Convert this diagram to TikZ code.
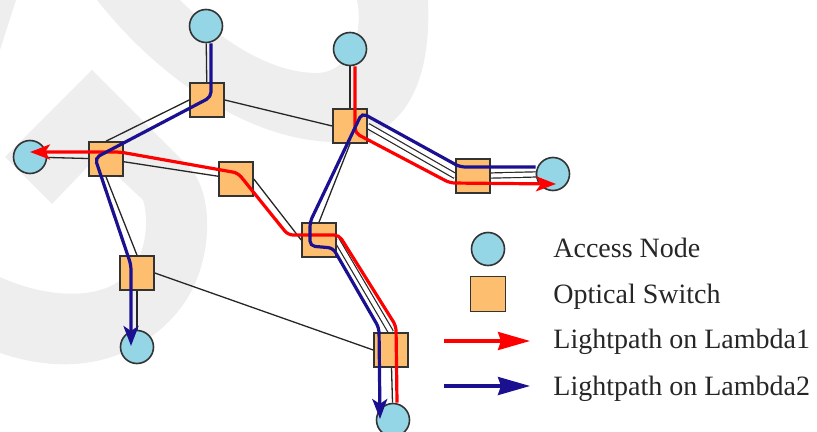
\documentclass[tikz,border=0pt]{standalone}
\usepackage{fontspec}
\setmainfont{Liberation Serif}
\usetikzlibrary{arrows.meta,backgrounds}
\definecolor{acces}{HTML}{94D6E6}
\definecolor{commut}{HTML}{FDBF6F}
\definecolor{rouge}{HTML}{FF0000}
\definecolor{marine}{HTML}{1B1090}
\definecolor{filigrane}{HTML}{EEEEEE}
\tikzset{accessnode/.style={
    circle,
    draw=black!80,
    line width=0.8pt,
    fill=acces,
    minimum size=16.5pt,
    inner sep=0pt}}
\tikzset{switchnode/.style={
    rectangle,
    draw=black!80,
    line width=0.8pt,
    fill=commut,
    minimum size=17pt,
    inner sep=0pt}}
\tikzset{fibre/.style={
    draw=black!85,
    line width=0.65pt}}
\tikzset{fibrepair/.style={
    draw=black!85,
    line width=0.6pt,
    double=white,
    double distance=2pt}}
\tikzset{lambdaone/.style={
    draw=rouge,
    line width=1.6pt,
    rounded corners=2.5pt}}
\tikzset{lambdatwo/.style={
    draw=marine,
    line width=1.6pt,
    rounded corners=2.5pt}}
\tikzset{pointe/.style={
    -{Stealth[length=10pt,width=7.5pt,inset=2.5pt]}}}
\tikzset{legendtext/.style={
    anchor=base west,
    inner sep=0pt,
    text=black!85,
    font=\fontsize{14pt}{16pt}\selectfont}}

\begin{document}
\begin{tikzpicture}[x=0.5pt,y=-0.5pt]
\useasboundingbox (0,0) rectangle (817,432);

% access nodes
\node[accessnode] (A1) at (206,26) {};
\node[accessnode] (A2) at (350,49) {};
\node[accessnode] (A3) at (30,157) {};
\node[accessnode] (A4) at (553,174) {};
\node[accessnode] (A5) at (137,347) {};
\node[accessnode] (A6) at (393,420) {};

% optical switches
\node[switchnode] (S1) at (207,100) {};
\node[switchnode] (S2) at (106,159) {};
\node[switchnode] (S3) at (236,179) {};
\node[switchnode] (S4) at (350,126) {};
\node[switchnode] (S5) at (473,176) {};
\node[switchnode] (S6) at (319,240) {};
\node[switchnode] (S7) at (137,273) {};
\node[switchnode] (S8) at (391,350) {};

\begin{scope}[on background layer]
  % watermark
  \fill[filigrane] (97,0) .. controls (160,80) and (250,140) .. (333,142)
    .. controls (400,142) and (432,90) .. (428,0) -- (357,0)
    .. controls (365,40) and (345,73) .. (317,73)
    .. controls (270,73) and (220,40) .. (180,0) -- cycle;
  \fill[filigrane] (5,157) -- (92,70) -- (190,168)
    .. controls (215,195) and (215,270) .. (175,315)
    .. controls (140,355) and (80,380) .. (0,353) -- (0,277)
    .. controls (50,300) and (120,305) .. (140,255)
    .. controls (150,230) and (145,205) .. (143,200)
    -- (97,157) -- (52,204) -- cycle;
  \fill[filigrane] (0,0) -- (16,0) -- (0,50) -- cycle;

  % fibre links
  \path[fibre] (A1) -- (S1);
  \path[fibre] (A2) -- (S4);
  \path[fibre] (A3) -- (S2);
  \path[fibre] (S1.west) -- (S2.north);
  \path[fibre] (S1.east) -- (S4.west);
  \path[fibre] (S2) -- (S3);
  \path[fibre] (S2.south) -- (S7.north);
  \path[fibre] (S3.east) -- (S6.west);
  \path[fibre] (S4.south) -- (S6.north);
  \path[fibre] (S7) -- (A5);
  \path[fibre] (S7.east) -- (S8.west);
  \path[fibre] (S8) -- (A6);
  \path[fibrepair] (S4.east) -- (S5.west);
  \path[fibrepair] (S5) -- (A4);
  \path[fibrepair] (S6.east) -- (S8.north);
\end{scope}

% lightpaths on lambda1
\draw[lambdaone,pointe] ([xshift=2.5pt]A2.south) -- ([shift={(5,7)}]S4.center)
  -- ([shift={(-23,7)}]S5.center) -- ([shift={(3,10)}]A4.center);
\draw[lambdaone,pointe] ([xshift=2pt]A6.north) -- ([shift={(5,-24)}]S8.center)
  -- ([shift={(20,-5)}]S6.center) -- ([shift={(-31,-5)}]S6.center)
  -- ([shift={(2,-6)}]S3.center) -- ([shift={(14,-7)}]S2.center)
  -- ([shift={(0,-5)}]A3.center);

% lightpaths on lambda2
\draw[lambdatwo,pointe] ([xshift=2.5pt]A1.south) -- ([shift={(4,-3)}]S1.center)
  -- ([shift={(-11,-1)}]S2.center) -- ([shift={(-6,-8)}]S7.center)
  -- ([shift={(-6,-1)}]A5.center);
\draw[lambdatwo,pointe] ([yshift=3.5pt]A4.west) -- ([shift={(-13,-9)}]S5.center)
  -- ([shift={(12,-13)}]S4.center) -- ([shift={(-9,-18)}]S6.center)
  -- ([shift={(-9,6)}]S6.center) -- ([shift={(14,8)}]S6.center)
  -- ([shift={(-12,-22)}]S8.center) -- ([shift={(-13,-1)}]A6.center);

% legend
\node[accessnode] (legacc) at (488,249) {};
\node[switchnode,minimum size=17.5pt] (legsw) at (488,294) {};
\coordinate (legr1) at (444,341);
\coordinate (legr2) at (530,341);
\coordinate (legb1) at (444,386);
\coordinate (legb2) at (530,386);
\draw[lambdaone,-{Stealth[length=16pt,width=9pt,inset=1.5pt]}] (legr1) -- (legr2);
\draw[lambdatwo,-{Stealth[length=16pt,width=9pt,inset=1.5pt]}] (legb1) -- (legb2);
\node[legendtext] (txtacc) at (553,257) {Access Node};
\node[legendtext] (txtsw) at (553,303) {Optical Switch};
\node[legendtext] (txtl1) at (553,348) {Lightpath on Lambda1};
\node[legendtext] (txtl2) at (553,395) {Lightpath on Lambda2};
\end{tikzpicture}
\end{document}
